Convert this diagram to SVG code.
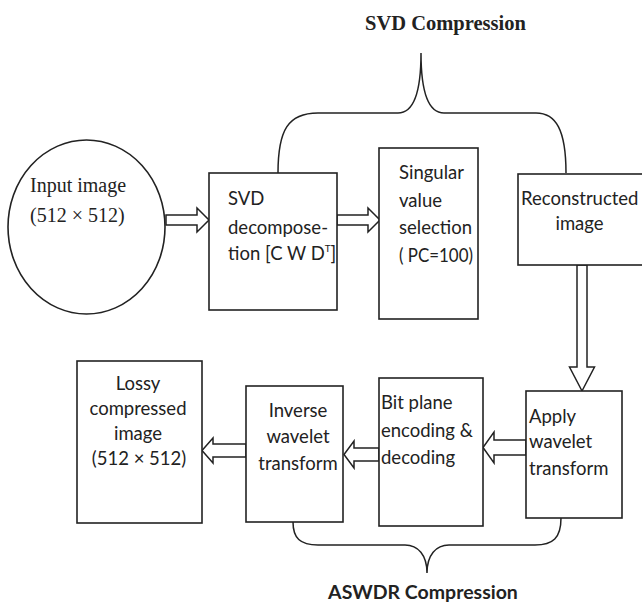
<svg xmlns="http://www.w3.org/2000/svg" width="642" height="606" viewBox="0 0 642 606">
<style>
.bg{fill:#ffffff}
.box{fill:#ffffff;stroke:#222;stroke-width:1.6}
.arw{fill:#ffffff;stroke:#222;stroke-width:1.5;stroke-linejoin:miter}
.brace{fill:none;stroke:#222;stroke-width:1.5}
.sans{font-family:Lato,"Liberation Sans",sans-serif;font-size:18.5px;fill:#222}
.serif{font-family:"Liberation Serif","Times New Roman",serif;font-size:20px;fill:#222}
.title{font-family:"Liberation Serif","Times New Roman",serif;font-size:20.5px;font-weight:bold;fill:#222}
.title2{font-family:Lato,"Liberation Sans",sans-serif;font-size:19.5px;font-weight:bold;fill:#222}
.mid{text-anchor:middle}
</style>
<rect class="bg" x="0" y="0" width="642" height="606"/>

<g id="braces">
<path class="brace" d="M278,173 C278,130 288,113 318,113 L398,113 C412,113 421,97 421,53 C421,97 430,113 444,113 L536,113 C556,113 566,130 566,173"/>
<text class="title mid" x="445.5" y="30">SVD Compression</text>
<path class="brace" d="M293,522 C293,538 300,545 318,545 L405,545 C418,545 427,555 427,573 C427,555 436,545 449,545 L535,545 C553,545 561,538 561,518"/>
<text class="title2 mid" x="423" y="599">ASWDR Compression</text>
</g>

<g id="connectors">
<polygon class="arw" points="166,215 197,215 197,208 209,220 197,232 197,225 166,225"/>
<polygon class="arw" points="337,215 368,215 368,208 380,220 368,232 368,225 337,225"/>
<polygon class="arw" points="577,265 577,367 569.5,367 582,391 594.5,367 587,367 587,265"/>
<polygon class="arw" points="526,440 494,440 494,432 483,447.5 494,463 494,455 526,455"/>
<polygon class="arw" points="379,448 354,448 354,441 344,454.5 354,468 354,461 379,461"/>
<polygon class="arw" points="246,444 213,444 213,438 202,450.5 213,463 213,457 246,457"/>
</g>

<g id="input-image">
<ellipse class="box" cx="86.5" cy="227" rx="78.5" ry="87"/>
<text class="serif" x="30" y="192">Input image</text>
<text class="serif" x="30" y="222">(512 × 512)</text>
</g>

<g id="svd-decomposition">
<rect class="box" x="209" y="173" width="128" height="137"/>
<text class="sans" x="228" y="205">SVD</text>
<text class="sans" x="228" y="234">decompose-</text>
<text class="sans" x="228" y="260">tion [C W D<tspan font-size="10" dy="-8">T</tspan><tspan dy="8">]</tspan></text>
</g>

<g id="singular-value-selection">
<rect class="box" x="379" y="148" width="99" height="171"/>
<text class="sans" x="399" y="179">Singular</text>
<text class="sans" x="399" y="207">value</text>
<text class="sans" x="399" y="234">selection</text>
<text class="sans" x="399" y="262" textLength="74" lengthAdjust="spacingAndGlyphs">( PC=100)</text>
</g>

<g id="reconstructed-image">
<rect class="box" x="518" y="174" width="130" height="91"/>
<text class="sans" x="521" y="205">Reconstructed</text>
<text class="sans mid" x="579.5" y="230">image</text>
</g>

<g id="apply-wavelet">
<rect class="box" x="526" y="391" width="96" height="127"/>
<text class="sans" x="529" y="423">Apply</text>
<text class="sans" x="529" y="448">wavelet</text>
<text class="sans" x="529" y="475">transform</text>
</g>

<g id="bit-plane">
<rect class="box" x="379" y="378" width="104" height="148"/>
<text class="sans" x="381" y="409">Bit plane</text>
<text class="sans" x="381" y="437">encoding &amp;</text>
<text class="sans" x="381" y="464">decoding</text>
</g>

<g id="inverse-wavelet">
<rect class="box" x="246" y="386" width="97" height="136"/>
<text class="sans mid" x="298" y="417">Inverse</text>
<text class="sans mid" x="298" y="443">wavelet</text>
<text class="sans mid" x="298" y="470">transform</text>
</g>

<g id="lossy-image">
<rect class="box" x="77" y="361" width="125" height="162"/>
<text class="sans mid" x="138" y="390">Lossy</text>
<text class="sans mid" x="138" y="415">compressed</text>
<text class="sans mid" x="138" y="440">image</text>
<text class="sans mid" x="139" y="465">(512 × 512)</text>
</g>
</svg>
